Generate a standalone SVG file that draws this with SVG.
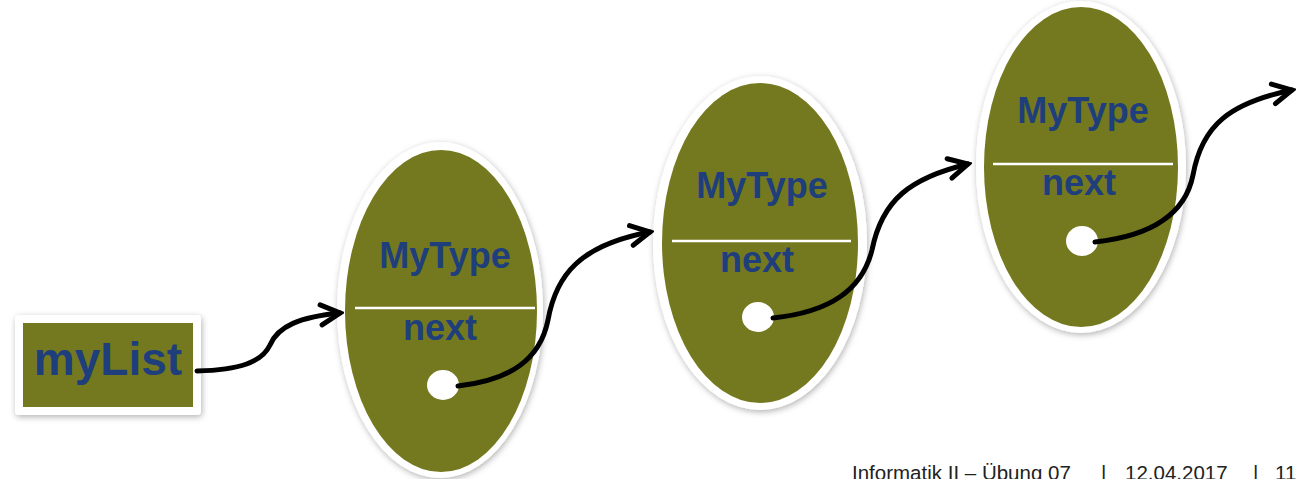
<svg xmlns="http://www.w3.org/2000/svg" width="1303" height="479" viewBox="0 0 1303 479">
<style>
.node-outer{fill:#ffffff;filter:url(#sh)}
.node-body{fill:#74791F}
.sep{stroke:#ffffff;stroke-width:2.5}
.dot{fill:#ffffff}
.lbl{font-family:"Liberation Sans",Arial,sans-serif;font-weight:bold;fill:#1F3E7C;text-anchor:middle}
.conn{fill:none;stroke:#000000;stroke-width:5;stroke-linecap:round;marker-end:url(#arr)}
.foot{font-family:"Liberation Sans",Arial,sans-serif;font-size:20.5px;fill:#222222}
</style>
<defs>
<filter id="sh" x="-20%" y="-20%" width="140%" height="140%">
<feDropShadow dx="1" dy="2" stdDeviation="3" flood-color="#000000" flood-opacity="0.3"/>
</filter>
<marker id="arr" markerUnits="userSpaceOnUse" viewBox="-24 -14 28 28" markerWidth="28" markerHeight="28" refX="0" refY="0" orient="auto">
<path d="M-19,-10 L0,0 L-19,10" fill="none" stroke="#000000" stroke-width="5" stroke-linecap="round" stroke-linejoin="miter"/>
</marker>
</defs>
<rect width="1303" height="479" fill="#ffffff"/>

<g id="myList">
<rect class="node-outer" x="15" y="315" width="186" height="100" rx="4"/>
<rect class="node-body" x="23" y="323" width="170" height="84"/>
<text class="lbl" x="108" y="375" font-size="46">myList</text>
</g>

<g id="node1">
<ellipse class="node-outer" cx="440" cy="310" rx="103" ry="168"/>
<ellipse class="node-body" cx="441" cy="311" rx="96" ry="161"/>
<line class="sep" x1="355" y1="308" x2="535" y2="308"/>
<text class="lbl" x="445" y="268" font-size="36">MyType</text>
<text class="lbl" x="440" y="340" font-size="36">next</text>
<ellipse class="dot" cx="443" cy="385" rx="16" ry="15"/>
</g>

<g id="node2">
<ellipse class="node-outer" cx="760" cy="243" rx="107" ry="167"/>
<ellipse class="node-body" cx="760" cy="243" rx="98" ry="160"/>
<line class="sep" x1="672" y1="241" x2="851" y2="241"/>
<text class="lbl" x="762" y="198" font-size="36">MyType</text>
<text class="lbl" x="757" y="272" font-size="36">next</text>
<ellipse class="dot" cx="758" cy="317" rx="16" ry="15"/>
</g>

<g id="node3">
<ellipse class="node-outer" cx="1081" cy="167" rx="105" ry="166"/>
<ellipse class="node-body" cx="1081" cy="167" rx="97" ry="160"/>
<line class="sep" x1="993" y1="164" x2="1173" y2="164"/>
<text class="lbl" x="1083" y="123" font-size="36">MyType</text>
<text class="lbl" x="1079" y="195" font-size="36">next</text>
<ellipse class="dot" cx="1082" cy="241" rx="16" ry="15"/>
</g>

<g id="connectors">
<path class="conn" d="M197,371 C240,370 262,362 270,345 C278,326 300,317 340,313"/>
<path class="conn" d="M458,386 C510,380 540,360 548,320 C556,275 580,245 650,232"/>
<path class="conn" d="M773,318 C830,312 862,290 872,250 C882,200 910,178 968,164"/>
<path class="conn" d="M1095,242 C1150,236 1185,215 1193,175 C1202,125 1230,103 1292,90"/>
</g>

<g id="footer">
<text class="foot" x="852" y="480">Informatik II – Übung 07</text>
<text class="foot" x="1101" y="480">|</text>
<text class="foot" x="1125" y="480">12.04.2017</text>
<text class="foot" x="1253" y="480">|</text>
<text class="foot" x="1275" y="480">11</text>
</g>
</svg>
